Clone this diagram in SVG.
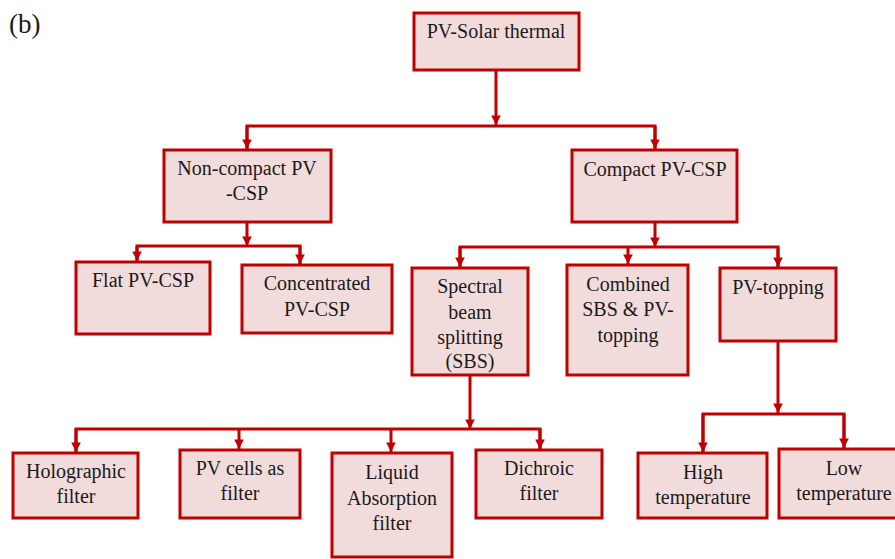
<svg xmlns="http://www.w3.org/2000/svg" width="895" height="559" viewBox="0 0 895 559">
<style>
.box{fill:#f2dcdb;stroke:#c00000;stroke-width:3}
.t{font-family:"Liberation Serif","DejaVu Serif",serif;font-size:20px;fill:#1a1a1a;text-anchor:middle}
.c{fill:none;stroke:#c00000;stroke-width:3}
</style>
<defs>
<marker id="ah" viewBox="0 0 10 10" refX="10" refY="5" markerWidth="3.2" markerHeight="3.2" orient="auto" markerUnits="strokeWidth">
<path d="M0,0 L10,5 L0,10 z" fill="#c00000"/>
</marker>
</defs>
<rect width="895" height="559" fill="#fff"/>
<text x="9" y="33" style="font-family:'Liberation Serif',serif;font-size:27px;fill:#1a1a1a">(b)</text>
<g id="connectors">
<path class="c" d="M496,70 V125" marker-end="url(#ah)"/>
<path class="c" d="M247,149 V126 H655 V149" />
<path class="c" d="M247,126 V149" marker-end="url(#ah)"/>
<path class="c" d="M655,126 V149" marker-end="url(#ah)"/>
<path class="c" d="M247,222 V246" marker-end="url(#ah)"/>
<path class="c" d="M137,261 V246 H300 V264"/>
<path class="c" d="M137,246 V261" marker-end="url(#ah)"/>
<path class="c" d="M300,246 V264" marker-end="url(#ah)"/>
<path class="c" d="M655,222 V247" marker-end="url(#ah)"/>
<path class="c" d="M460,267 V247 H778 V267"/>
<path class="c" d="M460,247 V267" marker-end="url(#ah)"/>
<path class="c" d="M628,247 V264" marker-end="url(#ah)"/>
<path class="c" d="M778,247 V267" marker-end="url(#ah)"/>
<path class="c" d="M470,375 V429" marker-end="url(#ah)"/>
<path class="c" d="M76,452 V429 H540 V449"/>
<path class="c" d="M76,429 V452" marker-end="url(#ah)"/>
<path class="c" d="M239,429 V449" marker-end="url(#ah)"/>
<path class="c" d="M391,429 V452" marker-end="url(#ah)"/>
<path class="c" d="M540,429 V449" marker-end="url(#ah)"/>
<path class="c" d="M778,341 V413" marker-end="url(#ah)"/>
<path class="c" d="M703,452 V414 H844 V448"/>
<path class="c" d="M703,414 V452" marker-end="url(#ah)"/>
<path class="c" d="M844,414 V448" marker-end="url(#ah)"/>
</g>
<g id="root"><rect class="box" x="414" y="13" width="165" height="57"/><text class="t" x="496" y="38">PV-Solar thermal</text></g>
<g id="noncompact"><rect class="box" x="164" y="150" width="167" height="72"/><text class="t" x="247" y="175">Non-compact PV</text><text class="t" x="247" y="200">-CSP</text></g>
<g id="compact"><rect class="box" x="572" y="150" width="165" height="72"/><text class="t" x="655" y="176">Compact PV-CSP</text></g>
<g id="flat"><rect class="box" x="76" y="262" width="134" height="72"/><text class="t" x="143" y="287">Flat PV-CSP</text></g>
<g id="concentrated"><rect class="box" x="242" y="265" width="150" height="68"/><text class="t" x="317" y="290">Concentrated</text><text class="t" x="317" y="316">PV-CSP</text></g>
<g id="sbs"><rect class="box" x="412" y="268" width="116" height="107"/><text class="t" x="470" y="293">Spectral</text><text class="t" x="470" y="319">beam</text><text class="t" x="470" y="344">splitting</text><text class="t" x="470" y="368">(SBS)</text></g>
<g id="combined"><rect class="box" x="567" y="265" width="121" height="110"/><text class="t" x="628" y="291">Combined</text><text class="t" x="628" y="316">SBS &amp; PV-</text><text class="t" x="628" y="342">topping</text></g>
<g id="pvtopping"><rect class="box" x="720" y="268" width="116" height="73"/><text class="t" x="778" y="294">PV-topping</text></g>
<g id="holographic"><rect class="box" x="13" y="453" width="125" height="65"/><text class="t" x="76" y="478">Holographic</text><text class="t" x="76" y="503">filter</text></g>
<g id="pvcells"><rect class="box" x="180" y="450" width="120" height="68"/><text class="t" x="240" y="475">PV cells as</text><text class="t" x="240" y="500">filter</text></g>
<g id="liquid"><rect class="box" x="332" y="453" width="120" height="104"/><text class="t" x="392" y="479">Liquid</text><text class="t" x="392" y="505">Absorption</text><text class="t" x="392" y="530">filter</text></g>
<g id="dichroic"><rect class="box" x="476" y="450" width="126" height="68"/><text class="t" x="539" y="475">Dichroic</text><text class="t" x="539" y="500">filter</text></g>
<g id="high"><rect class="box" x="638" y="453" width="129" height="65"/><text class="t" x="703" y="479">High</text><text class="t" x="703" y="504">temperature</text></g>
<g id="low"><rect class="box" x="779" y="449" width="130" height="69"/><text class="t" x="844" y="475">Low</text><text class="t" x="844" y="500">temperature</text></g>
</svg>
